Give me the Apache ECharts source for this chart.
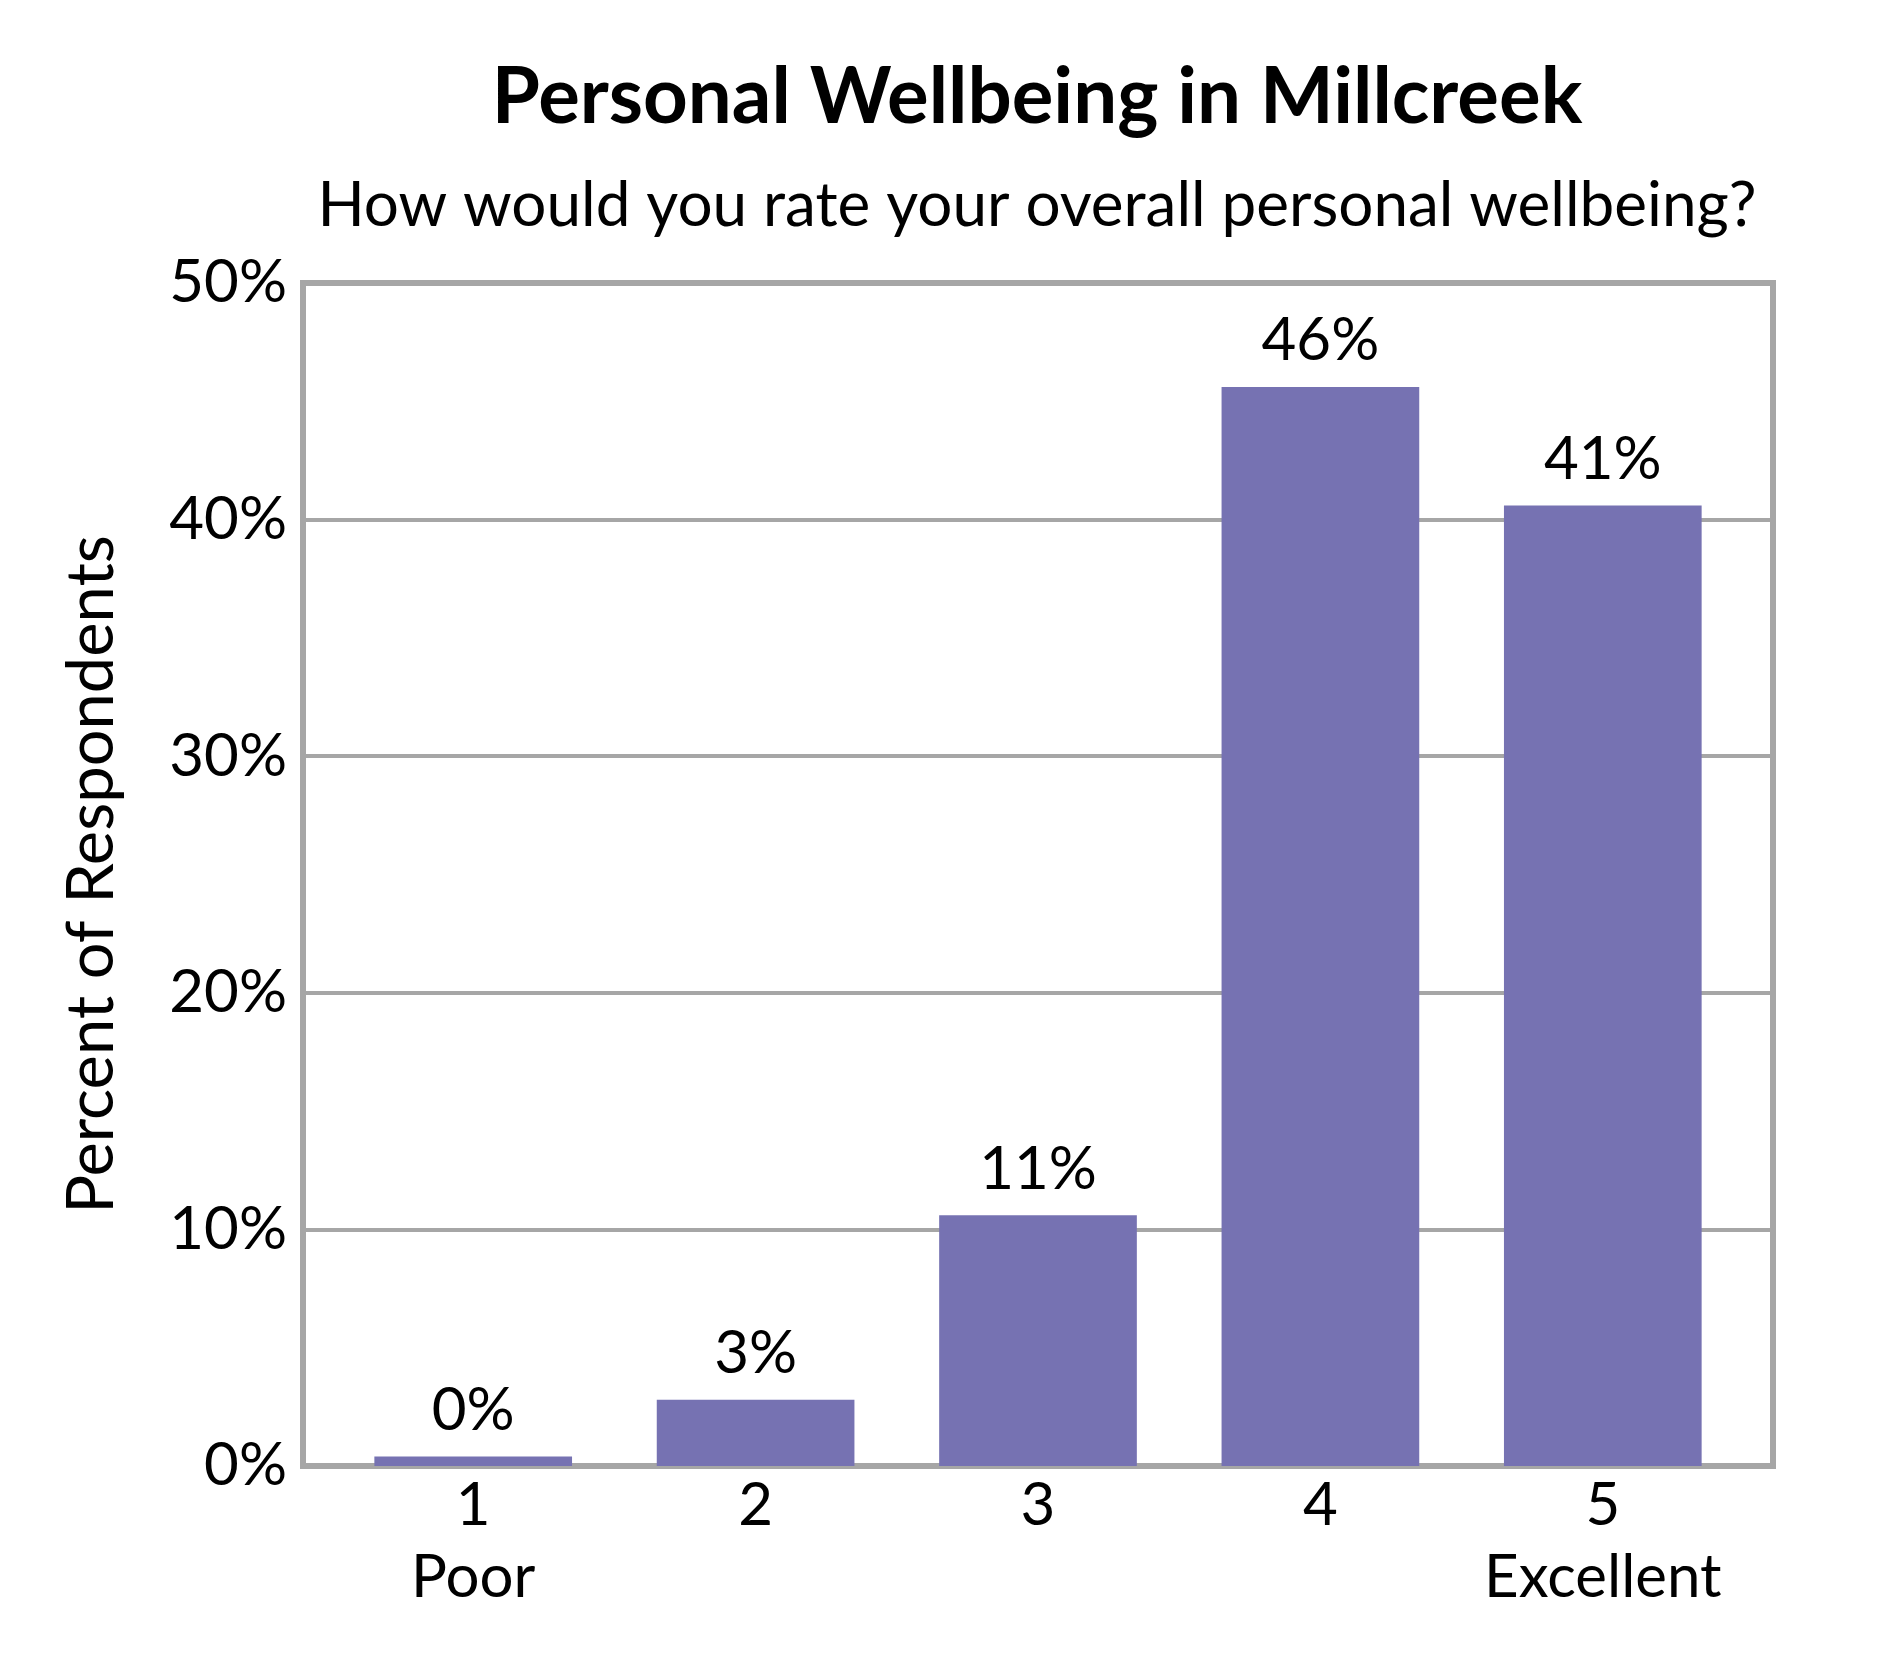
<!DOCTYPE html>
<html>
<head>
<meta charset="utf-8">
<script src="https://cdn.jsdelivr.net/npm/echarts@6/dist/echarts.min.js"></script>
<style>
  html, body { margin: 0; padding: 0; background: #ffffff; }
  #chart { width: 1890px; height: 1680px; }
</style>
</head>
<body>
<div id="chart"></div>
<script>
// categories and values (percent)
const categories = ['1\nPoor', '2', '3', '4', '5\nExcellent'];
const shares = [0.4, 2.8, 10.6, 45.6, 40.6];
const yTicks = [0, 10, 20, 30, 40, 50];

const FONT = 'Lato';
const GRAY = '#a6a6a6';
const yMin = yTicks[0];
const yMax = yTicks[yTicks.length - 1];

const chart = echarts.init(document.getElementById('chart'), null, { renderer: 'canvas' });

chart.setOption({
  animation: false,
  backgroundColor: '#ffffff',
  title: [
    {
      text: 'Personal Wellbeing in Millcreek',
      left: 1032, top: 54, textAlign: 'center',
      textStyle: { fontFamily: FONT, fontWeight: 'bold', fontSize: 78, color: '#000' }
    },
    {
      text: 'How would you rate your overall personal wellbeing?',
      left: 1032, top: 170, textAlign: 'center',
      textStyle: { fontFamily: FONT, fontWeight: 'normal', fontSize: 62, color: '#000' }
    }
  ],
  grid: [
    // outer frame with the value axis and gridlines
    {
      left: 303, right: 117, top: 283, bottom: 214,
      show: true, borderColor: GRAY, borderWidth: 6, backgroundColor: 'transparent'
    },
    // inner band for the bars (the bars sit a little in from the frame)
    { left: 332, right: 146, top: 283, bottom: 214 }
  ],
  xAxis: [
    { type: 'category', gridIndex: 0, data: categories, show: false },
    {
      type: 'category', gridIndex: 1, data: categories,
      axisLine: { show: false },
      axisTick: { show: false },
      axisLabel: {
        interval: 0,
        fontFamily: FONT, fontSize: 60, color: '#000', margin: 4, lineHeight: 72
      }
    }
  ],
  yAxis: [
    {
      type: 'value', gridIndex: 0,
      min: yMin, max: yMax, interval: 10,
      name: 'Percent of Respondents',
      nameLocation: 'middle', nameGap: 178, nameRotate: 90,
      nameTextStyle: { fontFamily: FONT, fontSize: 65, color: '#000' },
      axisLine: { show: false },
      axisTick: { show: false },
      splitLine: { lineStyle: { color: GRAY, width: 4 } },
      axisLabel: {
        fontFamily: FONT, fontSize: 60, color: '#000', margin: 16,
        formatter: v => v + '%'
      }
    },
    {
      type: 'value', gridIndex: 1,
      min: yMin, max: yMax, interval: 10,
      show: false, splitLine: { show: false }
    }
  ],
  series: [{
    type: 'bar',
    xAxisIndex: 1, yAxisIndex: 1,
    data: shares,
    barWidth: '70%',
    itemStyle: { color: '#7672b2' },
    label: {
      show: true, position: 'top', distance: 16,
      fontFamily: FONT, fontSize: 60, color: '#000',
      formatter: p => Math.round(p.value) + '%'
    }
  }]
});
</script>
</body>
</html>
